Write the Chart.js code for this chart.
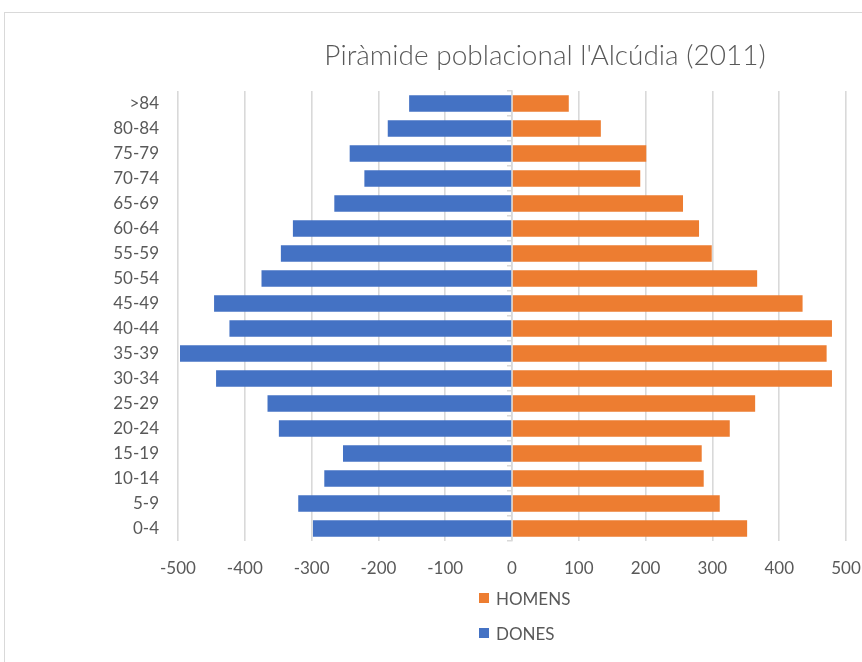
<!DOCTYPE html>
<html>
<head>
<meta charset="utf-8">
<script src="https://cdn.jsdelivr.net/npm/chart.js@4/dist/chart.umd.min.js"></script>
<style>
  html, body { margin: 0; padding: 0; background: #ffffff; }
  #wrap { position: relative; width: 862px; height: 662px; overflow: hidden; }
  #frame { position: absolute; left: 4px; top: 12px; width: 900px; height: 700px;
           border: 1px solid #d9d9d9; box-sizing: border-box; }
  #c { position: absolute; left: 0; top: 0; }
</style>
</head>
<body>
<div id="wrap">
  <div id="frame"></div>
  <canvas id="c" width="862" height="662"></canvas>
</div>
<script>
// Age groups, oldest at the top
const ageGroups = ['>84', '80-84', '75-79', '70-74', '65-69', '60-64', '55-59', '50-54', '45-49',
                   '40-44', '35-39', '30-34', '25-29', '20-24', '15-19', '10-14', '5-9', '0-4'];

// Men per age group (right side)
const homens = [85, 133, 201, 192, 256, 280, 299, 367, 435,
                479, 471, 479, 364, 326, 284, 287, 311, 352];

// Women per age group, negative so they extend to the left
const dones = [-154, -186, -243, -221, -266, -328, -346, -375, -446,
               -423, -497, -443, -366, -349, -253, -281, -320, -298];

const xTickMin = -500;
const xTickMax = 500;
const xTickStep = 100;

const chartTitle = "Piràmide poblacional l'Alcúdia (2011)";

const TEXT = '#595959';
const GRID = '#d9d9d9';
const BLUE = '#4472C4';
const ORANGE = '#ED7D31';
const FONT = 'Lato, "Open Sans", sans-serif';

// Title drawn off-centre, above the plot
const titlePlugin = {
  id: 'pyramidTitle',
  afterDraw(chart) {
    const ctx = chart.ctx;
    ctx.save();
    ctx.font = '300 28px ' + FONT;
    ctx.fillStyle = TEXT;
    ctx.textAlign = 'center';
    ctx.textBaseline = 'alphabetic';
    ctx.fillText(chartTitle, 545, 65);
    ctx.restore();
  }
};

// Vertical legend below the axis
const stackedLegend = {
  id: 'stackedLegend',
  afterDraw(chart) {
    const ctx = chart.ctx;
    ctx.save();
    ctx.font = '17px ' + FONT;
    ctx.textAlign = 'left';
    ctx.textBaseline = 'alphabetic';
    chart.data.datasets.forEach((ds, i) => {
      const base = 605 + i * 35;
      ctx.fillStyle = ds.backgroundColor;
      ctx.fillRect(479, base - 12, 10, 10);
      ctx.fillStyle = TEXT;
      ctx.fillText(ds.label, 496, base);
    });
    ctx.restore();
  }
};

new Chart(document.getElementById('c'), {
  type: 'bar',
  data: {
    labels: ageGroups,
    datasets: [
      { label: 'HOMENS', data: homens, backgroundColor: ORANGE,
        barPercentage: 0.66, categoryPercentage: 1.0 },
      { label: 'DONES', data: dones, backgroundColor: BLUE,
        barPercentage: 0.66, categoryPercentage: 1.0 }
    ]
  },
  options: {
    indexAxis: 'y',
    responsive: false,
    animation: false,
    layout: { padding: { top: 91, right: 16, bottom: 0, left: 0 } },
    plugins: {
      legend: { display: false },
      title: { display: false },
      tooltip: { enabled: false }
    },
    scales: {
      x: {
        stacked: true,
        min: xTickMin,
        max: xTickMax,
        border: { display: false },
        grid: { color: GRID, lineWidth: 1.6, drawTicks: false },
        ticks: { stepSize: xTickStep, color: TEXT, font: { family: FONT, size: 17 }, padding: 17 },
        afterFit(scale) {
          scale.height = 121;
          scale.paddingLeft = 0;
          scale.paddingRight = 0;
        }
      },
      y: {
        stacked: true,
        border: { display: false },
        grid: { display: false },
        ticks: { color: TEXT, font: { family: FONT, size: 17 }, padding: 11 },
        afterFit(scale) { scale.width = 178; }
      },
      yZeroBounds: {
        type: 'category',
        labels: ageGroups,
        position: { x: 0 },
        offset: true,
        z: 1,
        border: { display: true, color: GRID, width: 1.6 },
        grid: { drawOnChartArea: false, offset: true, tickLength: 4, color: GRID, lineWidth: 1.5 },
        ticks: { display: false }
      },
      yZeroCenters: {
        type: 'category',
        labels: ageGroups,
        position: { x: 0 },
        offset: true,
        z: 1,
        border: { display: false },
        grid: { drawOnChartArea: false, offset: false, tickLength: 4, color: GRID, lineWidth: 1.5 },
        ticks: { display: false }
      }
    }
  },
  plugins: [titlePlugin, stackedLegend]
});
</script>
</body>
</html>
